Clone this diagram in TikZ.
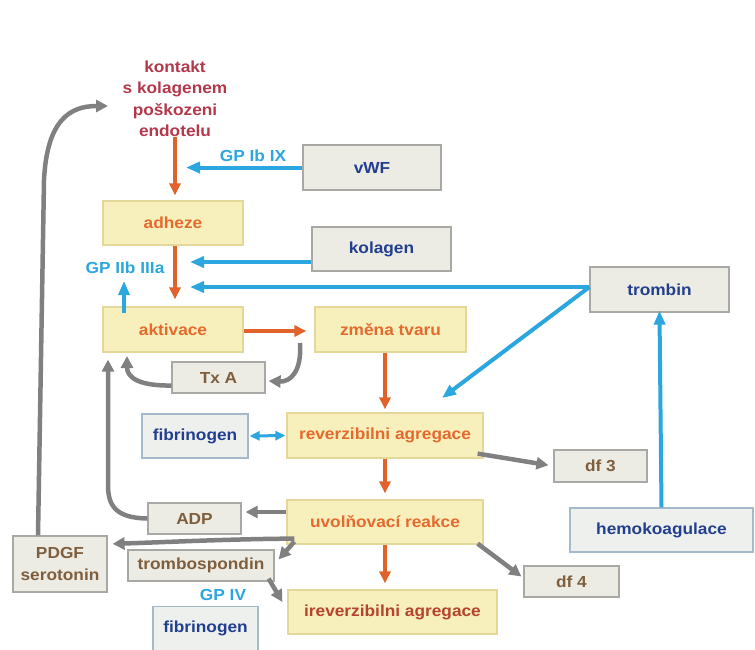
\documentclass[tikz,border=0pt]{standalone}
\usepackage{fontspec}
\setmainfont{Liberation Sans}[FakeStretch=1.08]
\usetikzlibrary{arrows.meta}
\definecolor{yfill}{HTML}{F7EFBC}
\definecolor{ybord}{HTML}{E3D79A}
\definecolor{gfill}{HTML}{EDECE4}
\definecolor{gbord}{HTML}{A8A8A4}
\definecolor{bfill}{HTML}{EEF0EE}
\definecolor{bbord}{HTML}{A4BACB}
\definecolor{otext}{HTML}{E46A2E}
\definecolor{oarrow}{HTML}{E2622B}
\definecolor{crimson}{HTML}{B2384A}
\definecolor{blueA}{HTML}{2BA6DE}
\definecolor{dblue}{HTML}{223F8F}
\definecolor{brownT}{HTML}{7E5E3C}
\definecolor{grayA}{HTML}{808080}
\definecolor{irevT}{HTML}{B5432E}
\begin{document}
\begin{tikzpicture}[x=1pt,y=-1pt,
  every node/.style={font=\bfseries\fontsize{16}{21.5}\selectfont, inner sep=0pt},
  ybox/.style={draw=ybord, fill=yfill, line width=1.2pt, text=otext},
  gbox/.style={draw=gbord, fill=gfill, line width=1.2pt, text=dblue},
  tbox/.style={draw=gbord, fill=gfill, line width=1.2pt, text=brownT},
  bbox/.style={draw=bbord, fill=bfill, line width=1.2pt, text=dblue},
  gplabel/.style={text=blueA},
  oarr/.style={draw=oarrow, line width=4pt, -{Triangle[length=12pt,width=11pt]}},
  barr/.style={draw=blueA, line width=4pt, -{Triangle[length=14pt,width=11pt]}},
  bdarr/.style={draw=blueA, line width=3pt, {Triangle[length=10pt,width=9pt]}-{Triangle[length=10pt,width=9pt]}},
  garr/.style={draw=grayA, line width=4.5pt, -{Triangle[length=12pt,width=12pt]}}
]
\useasboundingbox (0,0) rectangle (755,649);

% nodes
\node[text=crimson, align=center] (kontakt) at (175,99) {kontakt\\s kolagenem\\poškozeni\\endotelu};
\node[gbox, minimum width=138pt, minimum height=45pt] (vWF) at (372,167.5) {vWF};
\node[ybox, minimum width=140pt, minimum height=44pt] (adheze) at (173,223) {adheze};
\node[gbox, minimum width=139pt, minimum height=44pt] (kolagen) at (381.5,249) {kolagen};
\node[gbox, minimum width=139pt, minimum height=45pt] (trombin) at (659.5,289.5) {trombin};
\node[ybox, minimum width=140pt, minimum height=45pt] (aktivace) at (173,329.5) {aktivace};
\node[ybox, minimum width=151pt, minimum height=45pt] (zmena) at (390.5,329.5) {změna tvaru};
\node[tbox, minimum width=93pt, minimum height=31pt] (TxA) at (218.5,377.5) {Tx A};
\node[bbox, minimum width=106pt, minimum height=44pt] (fib1) at (195,436) {fibrinogen};
\node[ybox, minimum width=196pt, minimum height=45pt] (reverz) at (385,435.5) {reverzibilni agregace};
\node[tbox, minimum width=93pt, minimum height=32pt] (df3) at (600.5,466) {df 3};
\node[ybox, minimum width=196pt, minimum height=44pt] (uvol) at (385,522) {uvolňovací reakce};
\node[bbox, minimum width=183pt, minimum height=44pt] (hemo) at (661.5,530) {hemokoagulace};
\node[tbox, minimum width=93pt, minimum height=31pt] (ADP) at (194.5,518.5) {ADP};
\node[tbox, minimum width=94pt, minimum height=56pt, align=center] (PDGF) at (60,564) {PDGF\\serotonin};
\node[tbox, minimum width=146pt, minimum height=31pt] (trombo) at (201,565.5) {trombospondin};
\node[tbox, minimum width=95pt, minimum height=31pt] (df4) at (571.5,581.5) {df 4};
\node[ybox, minimum width=209pt, minimum height=44pt, text=irevT] (irev) at (392.5,612) {ireverzibilni agregace};
\node[bbox, minimum width=105pt, minimum height=46pt, anchor=north] (fib2) at (205.5,606) {};
\node[text=dblue] (fib2t) at (205.5,628) {fibrinogen};

% labels
\node[gplabel] (gpIb) at (253,156) {GP Ib IX};
\node[gplabel] (gpIIb) at (125,268) {GP IIb IIIa};
\node[gplabel] (gpIV) at (223,595) {GP IV};

% free ends
\coordinate (gpA) at (186,167.5);
\coordinate (gpB) at (190,262);
\coordinate (gpC) at (190,287);
\coordinate (gpD) at (124,281);
\coordinate (rvtip) at (442,398);
\coordinate (txs) at (300,343);
\coordinate (kin) at (108,106);

% orange main chain
\draw[oarr, shorten >=5pt] (kontakt.south) -- (kontakt.south |- adheze.north);
\draw[oarr, shorten >=7pt] (kontakt.south |- adheze.south) -- (kontakt.south |- aktivace.north);
\draw[oarr, shorten >=8pt] ([yshift=-1.5pt]aktivace.east) -- ([yshift=-1.5pt]zmena.west);
\draw[oarr, shorten >=3pt] (reverz.north |- zmena.south) -- (reverz.north);
\draw[oarr, shorten >=6pt] (reverz.south) -- (uvol.north);
\draw[oarr, shorten >=6pt] (uvol.south) -- (uvol.south |- irev.north);

% blue arrows
\draw[barr] (vWF.west) -- (gpA);
\draw[barr] ([yshift=-13pt]kolagen.west) -- (gpB);
\draw[barr] ([yshift=2.5pt]trombin.west) -- (gpC);
\draw[barr] ([yshift=2.5pt]trombin.west) -- (rvtip);
\draw[barr, shorten >=-2pt] (hemo.north) -- (trombin.south);
\draw[barr] ([shift={(-49,7)}]aktivace.north) -- (gpD);
\draw[bdarr, shorten <=1pt, shorten >=1pt] (fib1.east) -- (reverz.west);

% gray arrows
\draw[garr] ([yshift=-8pt]TxA.west) .. controls (140,386) and (127,378) .. (127,356);
\draw[garr] (txs) .. controls (302,372) and (290,382) .. ([shift={(3,3.5)}]TxA.east);
\draw[garr, shorten >=5pt] ([shift={(-6,-5)}]reverz.south east) -- (df3.west);
\draw[garr] ([shift={(-6,-1)}]uvol.south east) -- ([shift={(-2,-5)}]df4.west);
\draw[garr, shorten >=4pt] ([yshift=10pt]uvol.west) -- ([yshift=6.5pt]ADP.east);
\draw[garr, shorten >=7pt] (ADP.west) .. controls (115,518) and (108,505) .. (108,485) -- ([xshift=-65pt]aktivace.south);
\draw[garr, shorten >=5pt] ([shift={(8,-6)}]uvol.south west) .. controls (230,539) and (170,542) .. ([yshift=20pt]PDGF.east);
\draw[garr] ([shift={(8,-3)}]uvol.south west) -- ([shift={(4,10)}]trombo.north east);
\draw[garr] ([shift={(-6,-3)}]trombo.south east) -- ([shift={(-5,-10)}]irev.west);
\draw[garr] ([xshift=-22pt]PDGF.north) -- (44,180) .. controls (47,120) and (70,106) .. (kin);
\end{tikzpicture}
\end{document}
